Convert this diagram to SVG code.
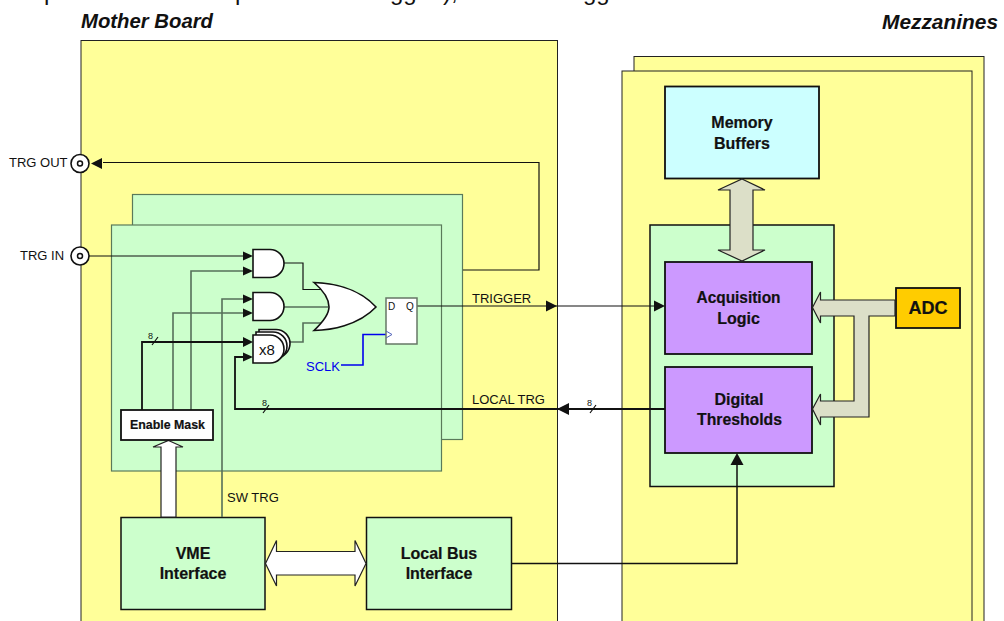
<svg xmlns="http://www.w3.org/2000/svg" width="1004" height="621" viewBox="0 0 1004 621">
<defs>
<style>
text{font-family:"Liberation Sans",Arial,sans-serif;fill:#111}
.y{fill:#ffff99;stroke:#222;stroke-width:1}
.g{fill:#ccffcc;stroke:#111;stroke-width:1.5}
.gg{fill:#ccffcc;stroke:#5a7a5a;stroke-width:1.2}
.p{fill:#cc99ff;stroke:#111;stroke-width:1.8}
.b{font-size:16px;font-weight:bold;text-anchor:middle;stroke:#111;stroke-width:.2}
.s{font-size:13px}
.t{font-size:10px}
.n{font-size:9px}
.w{fill:none;stroke:#111;stroke-width:1.2}
.wg{fill:none;stroke:#56705a;stroke-width:1.6}
.wb{fill:none;stroke:#111;stroke-width:1.8}
.gate{fill:#fff;stroke:#111;stroke-width:1.6}
.bus{fill:#dcdfc8;stroke:#222;stroke-width:1.2}
.bw{fill:#fff;stroke:#222;stroke-width:1.2}
.h{fill:#111}
.top{font-size:24px}
</style>
</defs>
<g id="clipped-top-line">
<text class="top" x="44" y="0">p</text>
<text class="top" x="235" y="0">p</text>
<text class="top" x="390" y="0">gg</text>
<text class="top" x="443" y="0">),</text>
<text class="top" x="583" y="0">gg</text>
</g>
<g id="mother-board"><rect class="y" x="81" y="40.500" width="476.500" height="600"/></g>
<text id="label-mother" x="81" y="28" font-size="20" font-weight="bold" font-style="italic" textLength="132" lengthAdjust="spacingAndGlyphs">Mother Board</text>
<text id="label-mezz" x="882" y="29" font-size="20" font-weight="bold" font-style="italic" textLength="116" lengthAdjust="spacingAndGlyphs">Mezzanines</text>
<g id="mezzanine-back"><rect class="y" x="634" y="56.500" width="350" height="600"/></g>
<g id="mezzanine-front"><rect class="y" x="622" y="71" width="350" height="600"/></g>
<g id="channel-back"><rect class="gg" x="132.500" y="194.500" width="330" height="245"/></g>
<g id="channel-front"><rect class="gg" x="111.500" y="225" width="330" height="246"/></g>
<g id="acq-block"><rect class="g" x="650" y="225" width="184" height="261.500"/></g>
<g id="memory-buffers"><rect x="665" y="86.500" width="154" height="92" fill="#ccffff" stroke="#111" stroke-width="1.800"/><text class="b" x="742" y="128">Memory</text><text class="b" x="742" y="149">Buffers</text></g>
<g id="acquisition-logic"><rect class="p" x="665" y="262" width="147" height="92"/><text class="b" x="738.500" y="303" textLength="84" lengthAdjust="spacingAndGlyphs">Acquisition</text><text class="b" x="738.500" y="324">Logic</text></g>
<g id="digital-thresholds"><rect class="p" x="665" y="367" width="147" height="86"/><text class="b" x="739" y="405">Digital</text><text class="b" x="739.500" y="425" textLength="85" lengthAdjust="spacingAndGlyphs">Thresholds</text></g>
<g id="adc"><rect x="896" y="288" width="64" height="40" fill="#ffcc00" stroke="#111" stroke-width="1.800"/><text class="b" x="928" y="314" font-size="17" style="font-size:18px">ADC</text></g>
<g id="vme-interface"><rect class="g" x="121" y="517.500" width="144" height="92"/><text class="b" x="193" y="559">VME</text><text class="b" x="193" y="579">Interface</text></g>
<g id="local-bus"><rect class="g" x="366.500" y="517.500" width="145" height="92"/><text class="b" x="439" y="559">Local Bus</text><text class="b" x="439" y="579">Interface</text></g>
<g id="connectors">
<polygon class="bus" points="742,179 765,190 753,190 753,250 765,250 742,261 718,250 730,250 730,190 718,190"/>
<polygon class="bus" points="812.500,307.500 820.500,292 820.500,300 895,300 895,316 869,316 869,417 820.500,417 820.500,425 812.500,409 820.500,394 820.500,401 854,401 854,316 820.500,316 820.500,323"/>
<polygon class="bw" points="168.500,440.500 183,447 176,447 176,517 161,517 161,447 153,447"/>
<polygon class="bw" points="265.500,563.500 276.500,540.500 276.500,551.500 355,551.500 355,540.500 366,563.500 355,586 355,575 276.500,575 276.500,586"/>
<path class="w" d="M463 270H539V162.500H103"/><polygon class="h" points="91,163.500 102,158 102,169"/>
<path class="w" d="M89 256H243"/><polygon class="h" points="253,256 243,251.500 243,260.500"/>
<path class="wg" d="M191 410V271H243"/><polygon class="h" points="253,271 243,266.500 243,275.500"/>
<path class="wg" d="M173 410V313H243"/><polygon class="h" points="253,313 243,308.500 243,317.500"/>
<path class="wg" d="M222 517V299H243"/><polygon class="h" points="253,299 243,294.500 243,303.500"/>
<path class="wb" d="M142 410V342H243"/><polygon class="h" points="253,342 243,337 243,347"/>
<path class="wb" d="M665 409H235V357H243"/><polygon class="h" points="253,357 243,352.500 243,361.500"/>
<path class="w" d="M152 345l6-8M263 413l6-8M590 413l6-8"/>
<path class="w" d="M284 263H303V289.500H322"/>
<path class="wg" d="M284 307H328M284 342H303V323H322"/>
<path class="w" d="M417 306H655"/><polygon class="h" points="557,306 546,300.500 546,311.500"/><polygon class="h" points="665,306 654,300.500 654,311.500"/>
<polygon class="h" points="557,409 569,403 569,415"/>
<path d="M341 365H363V334.500H386" fill="none" stroke="#0000ee" stroke-width="1.600"/>
<path class="wb" style="stroke-width:1.500" d="M511 563.500H737V465"/><polygon class="h" points="737,453 730.500,465 743.500,465"/>
</g>
<g id="connector-trg-out"><circle class="gate" cx="80" cy="163.500" r="9"/><circle cx="80" cy="163.500" r="2.500" fill="#fff" stroke="#111" stroke-width="1.500"/></g>
<g id="connector-trg-in"><circle class="gate" cx="80" cy="256" r="9"/><circle cx="80" cy="256" r="2.500" fill="#fff" stroke="#111" stroke-width="1.500"/></g>
<g id="and-1"><path class="gate" d="M253 249.500H270a14 14 0 0 1 0 28H253Z"/></g>
<g id="and-2"><path class="gate" d="M253 292.500H270a14 14 0 0 1 0 28H253Z"/></g>
<g id="and-x8">
<path class="gate" d="M259 329.500H276a14 14 0 0 1 0 28H259Z"/>
<path class="gate" d="M256 332H273a14 14 0 0 1 0 28H256Z"/>
<path class="gate" d="M253 335H270a14 14 0 0 1 0 28H253Z"/>
<text x="267" y="355" font-size="15" text-anchor="middle">x8</text>
</g>
<g id="or-gate"><path class="gate" d="M314 282.500C330 283 358 287 376 307C358 326 330 330 314 330.500C324 321 329 314 329 307C329 300 324 291 314 282.500Z"/></g>
<g id="flip-flop"><rect x="386" y="298" width="31" height="46" fill="#fff" stroke="#667766" stroke-width="1.500"/><text class="t" x="388" y="310">D</text><text class="t" x="406" y="310">Q</text><path d="M386 331l6 3.500-6 3.500" fill="none" stroke="#5566bb" stroke-width="1"/></g>
<g id="enable-mask"><rect x="121" y="410" width="92" height="30" fill="#fff" stroke="#111" stroke-width="1.800"/><text x="167.500" y="429" font-size="12" font-weight="bold" text-anchor="middle" stroke="#111" stroke-width=".2" textLength="75" lengthAdjust="spacingAndGlyphs">Enable Mask</text></g>
<g id="labels">
<text class="s" x="9" y="167">TRG OUT</text>
<text class="s" x="20" y="260">TRG IN</text>
<text class="s" x="472" y="303">TRIGGER</text>
<text class="s" x="472" y="404">LOCAL TRG</text>
<text class="s" x="227" y="502">SW TRG</text>
<text x="306" y="371" font-size="13" style="fill:#0000ee">SCLK</text>
<text class="n" x="148" y="339">8</text>
<text class="n" x="262" y="406">8</text>
<text class="n" x="587" y="406">8</text>
</g>
</svg>
